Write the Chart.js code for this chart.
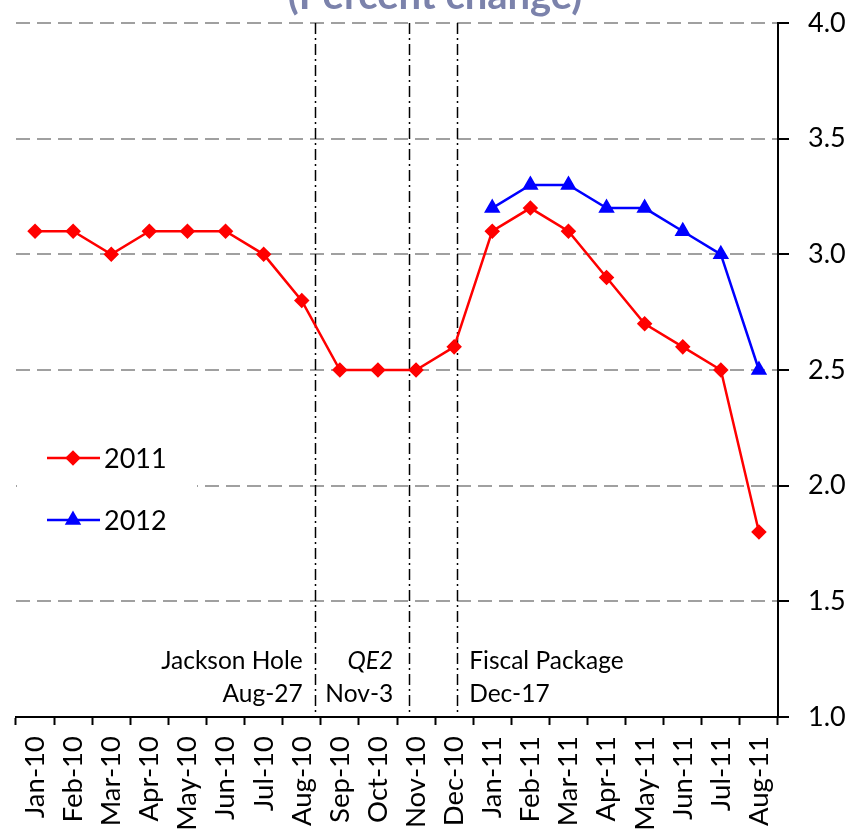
<!DOCTYPE html>
<html>
<head>
<meta charset="utf-8">
<script src="https://cdn.jsdelivr.net/npm/chart.js@4"></script>
<style>
    html, body { margin: 0; padding: 0; background: #fff; }
    #wrap { width: 852px; height: 832px; position: relative; }
</style>
</head>
<body>
<div id="wrap"><canvas id="chart"></canvas></div>
<script>
// Chart data
const months = [
    "Jan-10", "Feb-10", "Mar-10", "Apr-10", "May-10", "Jun-10", "Jul-10", "Aug-10",
    "Sep-10", "Oct-10", "Nov-10", "Dec-10", "Jan-11", "Feb-11", "Mar-11", "Apr-11",
    "May-11", "Jun-11", "Jul-11", "Aug-11"
];
const forecast2011 = [3.1, 3.1, 3.0, 3.1, 3.1, 3.1, 3.0, 2.8, 2.5, 2.5, 2.5, 2.6, 3.1, 3.2, 3.1, 2.9, 2.7, 2.6, 2.5, 1.8];
const forecast2012 = [null, null, null, null, null, null, null, null, null, null, null, null, 3.2, 3.3, 3.3, 3.2, 3.2, 3.1, 3.0, 2.5];
const yTicks = [1.0, 1.5, 2.0, 2.5, 3.0, 3.5, 4.0];

// Events: position on the category axis (fractional month index) and labels
const eventPos = [7.34, 9.82, 11.08];
const eventNames = ["Jackson Hole", "QE2", "Fiscal Package"];
const eventDates = ["Aug-27", "Nov-3", "Dec-17"];

const FONT = "Lato, 'Liberation Sans', sans-serif";

// Title, dash-dot event lines, annotations and the boxed legend
const overlayPlugin = {
    id: "overlay",
    beforeDatasetsDraw(chart) {
        const { ctx, chartArea, scales } = chart;
        ctx.save();
        ctx.strokeStyle = "#000";
        ctx.lineWidth = 1.5;
        ctx.setLineDash([11, 4, 2, 4]);
        eventPos.forEach(p => {
            const x = Math.round(scales.x.getPixelForValue(p)) + 0.5;
            ctx.beginPath();
            ctx.moveTo(x, chartArea.top);
            ctx.lineTo(x, chartArea.bottom);
            ctx.stroke();
        });
        ctx.restore();
    },
    afterDraw(chart) {
        const { ctx, scales } = chart;
        ctx.save();

        // title (mostly above the visible area)
        ctx.fillStyle = "#7b82ab";
        ctx.font = "bold 40px " + FONT;
        ctx.textAlign = "center";
        ctx.textBaseline = "alphabetic";
        ctx.fillText("(Percent change)", 435, 9);

        // event annotations
        ctx.fillStyle = "#000";
        ctx.textBaseline = "middle";
        const xs = eventPos.map(p => scales.x.getPixelForValue(p));
        const anchors = [
            { x: xs[0] - 12, align: "right" },
            { x: xs[1] - 16, align: "right" },
            { x: xs[2] + 12, align: "left" }
        ];
        anchors.forEach((a, i) => {
            ctx.textAlign = a.align;
            ctx.font = (i === 1 ? "italic " : "") + "24.5px " + FONT;
            ctx.fillText(eventNames[i], a.x, 661);
            ctx.font = "24.5px " + FONT;
            ctx.fillText(eventDates[i], a.x, 694);
        });

        // legend box
        ctx.fillStyle = "#fff";
        ctx.fillRect(17, 430, 180, 120);
        chart.data.datasets.forEach((ds, i) => {
            const y = 458 + i * 62;
            ctx.strokeStyle = ds.borderColor;
            ctx.lineWidth = ds.borderWidth;
            ctx.beginPath();
            ctx.moveTo(47, y);
            ctx.lineTo(100, y);
            ctx.stroke();
            Chart.helpers.drawPoint(ctx, {
                pointStyle: ds.pointStyle,
                radius: ds.pointRadius,
                rotation: 0,
                borderWidth: 1
            }, 73, y);
            ctx.fillStyle = ds.borderColor;
            ctx.fill();
            ctx.fillStyle = "#000";
            ctx.font = "27px " + FONT;
            ctx.textAlign = "left";
            ctx.fillText(ds.label, 104, y + 1);
        });
        ctx.restore();
    }
};

const ctx = document.getElementById("chart").getContext("2d");
new Chart(ctx, {
    type: "line",
    data: {
        labels: months,
        datasets: [
            {
                label: "2011",
                data: forecast2011,
                borderColor: "#ff0000",
                backgroundColor: "#ff0000",
                borderWidth: 2.5,
                pointStyle: "rectRot",
                pointRadius: 6,
                pointHoverRadius: 6,
                tension: 0
            },
            {
                label: "2012",
                data: forecast2012,
                borderColor: "#0000ff",
                backgroundColor: "#0000ff",
                borderWidth: 2.5,
                pointStyle: "triangle",
                pointRadius: 7,
                pointHoverRadius: 7,
                tension: 0
            }
        ]
    },
    options: {
        responsive: true,
        maintainAspectRatio: false,
        animation: false,
        layout: { padding: { top: 23, left: 16, right: 0, bottom: 0 } },
        plugins: {
            legend: { display: false },
            tooltip: { enabled: false }
        },
        scales: {
            x: {
                offset: true,
                grid: {
                    offset: true,
                    drawOnChartArea: false,
                    drawTicks: true,
                    tickLength: 8,
                    tickColor: "#000",
                    tickWidth: 2
                },
                border: { display: true, color: "#000", width: 2 },
                ticks: {
                    color: "#000",
                    font: { family: FONT, size: 27.5 },
                    minRotation: 90,
                    maxRotation: 90,
                    autoSkip: false,
                    padding: 11
                },
                afterFit: s => { s.height = 115; s.paddingLeft = 0; s.paddingRight = 0; }
            },
            y: {
                position: "right",
                min: 1,
                max: 4,
                afterBuildTicks: s => { s.ticks = yTicks.map(v => ({ value: v })); },
                grid: {
                    color: "#a0a0a0",
                    lineWidth: 2,
                    drawTicks: true,
                    tickLength: 11,
                    tickColor: "#000",
                    tickWidth: 2,
                    tickBorderDash: []
                },
                border: { display: true, color: "#000", width: 2, dash: [14, 7] },
                ticks: {
                    color: "#000",
                    font: { family: FONT, size: 27 },
                    padding: 19,
                    callback: v => Number(v).toFixed(1)
                },
                afterFit: s => { s.width = 74; s.paddingTop = 0; s.paddingBottom = 0; }
            }
        }
    },
    plugins: [overlayPlugin]
});
</script>
</body>
</html>
